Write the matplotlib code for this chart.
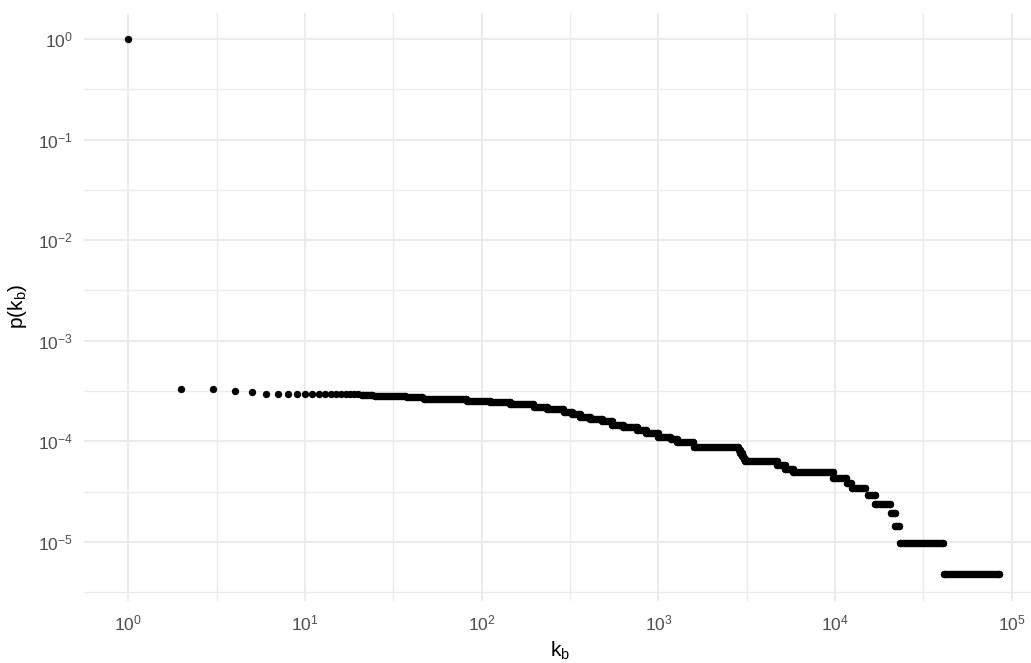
import numpy as np
import matplotlib
matplotlib.use("Agg")
import matplotlib.pyplot as plt
from matplotlib.ticker import FixedLocator, FuncFormatter, NullFormatter

plt.rcParams['font.family'] = ['Liberation Sans', 'DejaVu Sans']
plt.rcParams['mathtext.fontset'] = 'custom'
plt.rcParams['mathtext.rm'] = 'Liberation Sans'
plt.rcParams['mathtext.it'] = 'Liberation Sans'
plt.rcParams['mathtext.bf'] = 'Liberation Sans:bold'

# ---- data ----
# individual points at small k_b
dot_k = [1, 2, 3, 4, 5, 6, 7, 8, 9, 10, 11, 12, 13, 14, 15, 16, 17, 18, 19, 20]
dot_p = [1.0, 3.32e-4, 3.32e-4, 3.19e-4, 3.08e-4, 2.98e-4, 2.98e-4, 2.98e-4,
         2.98e-4, 2.98e-4, 2.98e-4, 2.98e-4, 2.98e-4, 2.98e-4, 2.98e-4,
         2.98e-4, 2.98e-4, 2.98e-4, 2.98e-4, 2.98e-4]

# dense region: runs of consecutive k_b sharing the same p(k_b)
run_start = [21, 25, 38, 47, 83, 112, 145, 197, 234, 291, 324, 361, 411, 479,
             546, 631, 756, 851, 1001, 1171, 1271, 1581, 2850, 2910, 2970,
             3040, 3110, 4700, 5210, 5810, 9750, 11700, 12400, 15400, 16900,
             20600, 21900, 23300, 41300]
run_end = [24, 37, 46, 82, 111, 144, 196, 233, 290, 323, 360, 410, 478, 545,
           630, 755, 850, 1000, 1170, 1270, 1580, 2830, 2900, 2960, 3030,
           3100, 4680, 5200, 5800, 9700, 11600, 12300, 14800, 16800, 20500,
           21800, 23100, 41000, 85100]
run_p = [2.91e-4, 2.83e-4, 2.74e-4, 2.64e-4, 2.54e-4, 2.45e-4, 2.35e-4,
         2.21e-4, 2.08e-4, 1.97e-4, 1.85e-4, 1.76e-4, 1.67e-4, 1.585e-4,
         1.47e-4, 1.38e-4, 1.29e-4, 1.20e-4, 1.11e-4, 1.06e-4, 9.9e-5,
         8.75e-5, 8.2e-5, 7.7e-5, 7.2e-5, 6.7e-5, 6.35e-5, 5.8e-5, 5.3e-5,
         4.95e-5, 4.35e-5, 3.85e-5, 3.4e-5, 2.9e-5, 2.4e-5, 1.93e-5,
         1.45e-5, 9.7e-6, 4.81e-6]

x_major = [1, 10, 100, 1000, 10000, 100000]
y_major = [1e-5, 1e-4, 1e-3, 1e-2, 1e-1, 1]

# ---- figure ----
W, H = 1031, 663
fig = plt.figure(figsize=(W / 100, H / 100), dpi=100)
ax_l, ax_r, ax_t, ax_b = 84, 1031, 12.5, 600.8
ax = fig.add_axes([ax_l / W, (H - ax_b) / H, (ax_r - ax_l) / W, (ax_b - ax_t) / H])

ax.set_xscale('log')
ax.set_yscale('log')
ax.set_xlim(10 ** -0.2507, 10 ** 5.1087)
ax.set_ylim(10 ** -5.585, 10 ** 0.2634)

grid_col = '#EBEBEB'
ax.xaxis.set_major_locator(FixedLocator(x_major))
ax.yaxis.set_major_locator(FixedLocator(y_major))
ax.xaxis.set_minor_locator(FixedLocator([10 ** (e + 0.5) for e in range(-1, 6)]))
ax.yaxis.set_minor_locator(FixedLocator([10 ** (e + 0.5) for e in range(-6, 1)]))
fmt = FuncFormatter(lambda v, pos: r'$\mathregular{10^{%d}}$' % int(round(np.log10(v))))
ax.xaxis.set_major_formatter(fmt)
ax.yaxis.set_major_formatter(fmt)
ax.xaxis.set_minor_formatter(NullFormatter())
ax.yaxis.set_minor_formatter(NullFormatter())

ax.grid(True, which='major', color=grid_col, lw=1.4)
ax.grid(True, which='minor', color=grid_col, lw=1.0)
ax.set_axisbelow(True)
for s in ax.spines.values():
    s.set_visible(False)
ax.tick_params(which='both', length=0)
ax.tick_params(axis='x', which='major', labelsize=12.5, labelcolor='#4D4D4D', pad=9)
ax.tick_params(axis='y', which='major', labelsize=12.5, labelcolor='#4D4D4D', pad=8)

# ---- data marks ----
ms = 5.3
ax.hlines(run_p, run_start, run_end, colors='black', lw=ms, capstyle='round', zorder=3)
ax.plot(run_start + run_end, run_p + run_p, 'o', ms=ms, color='black', mec='none', zorder=3)
ax.plot(dot_k, dot_p, 'o', ms=ms, color='black', mec='none', zorder=3)

ax.set_xlabel(r'$\mathregular{k_b}$', fontsize=15, color='black')
ax.set_ylabel(r'$\mathregular{p(k_b)}$', fontsize=15, color='black')
ax.xaxis.set_label_coords((560 - ax_l) / (ax_r - ax_l), -(640 - ax_b) / (ax_b - ax_t))
ax.yaxis.set_label_coords(-(ax_l - 29) / (ax_r - ax_l), 0.5)

fig.savefig('out.png', dpi=100)
